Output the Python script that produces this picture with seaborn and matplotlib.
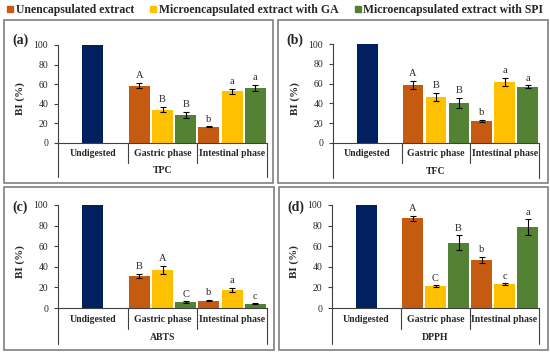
import numpy as np
import pandas as pd
import seaborn as sns
from matplotlib import pyplot as plt
from matplotlib.lines import Line2D
from matplotlib.patches import Rectangle

PHASES = ["Undigested", "Gastric phase", "Intestinal phase"]
SAMPLES = ["Unencapsulated extract", "Microencapsulated extract with GA", "Microencapsulated extract with SPI"]
PANELS = ["(a)", "(b)", "(c)", "(d)"]
ASSAYS = ["TPC", "TFC", "ABTS", "DPPH"]
UNDIGESTED = 100

# gastric (unenc, GA, SPI) then intestinal (unenc, GA, SPI)
tpc_mean = [58.5, 34.0, 28.5, 16.5, 53.0, 56.5]
tpc_sd = [2.8, 2.5, 3.0, 0.5, 2.5, 3.0]
tpc_letters = ["A", "B", "B", "b", "a", "a"]

tfc_mean = [58.8, 46.5, 40.5, 22.5, 62.0, 56.8]
tfc_sd = [4.0, 4.0, 5.0, 1.0, 4.0, 1.5]
tfc_letters = ["A", "B", "B", "b", "a", "a"]

abts_mean = [31.0, 37.0, 5.5, 7.0, 17.5, 4.0]
abts_sd = [2.0, 4.0, 1.0, 0.5, 2.0, 0.5]
abts_letters = ["B", "A", "C", "b", "a", "c"]

dpph_mean = [87.0, 21.0, 63.5, 46.5, 23.2, 78.5]
dpph_sd = [2.5, 1.0, 7.0, 3.0, 0.8, 7.5]
dpph_letters = ["A", "C", "B", "b", "c", "a"]

COLORS = {
    "Undigested": "#002060",
    SAMPLES[0]: "#C55A11",
    SAMPLES[1]: "#FFC000",
    SAMPLES[2]: "#548235",
}

W, H = 550, 354
# panel boxes in pixels: left, top, right, bottom
BOXES = [(4, 20, 273, 183), (278, 20, 548, 183), (4, 187, 274, 350), (279, 187, 548, 350)]
# axes in pixels: left, top(100), right, bottom(0)
AXES = [(58, 45, 267, 143), (333, 44, 539, 143), (58, 205, 267, 308), (332, 205, 539, 308)]


def build_frame(means, sds, letters):
    rows = [dict(phase=0, slot=1, sample="Undigested", value=UNDIGESTED, sd=0.0, letter="")]
    for i, (m, s, l) in enumerate(zip(means, sds, letters)):
        rows.append(dict(phase=1 + i // 3, slot=i % 3, sample=SAMPLES[i % 3], value=m, sd=s, letter=l))
    df = pd.DataFrame(rows)
    df["pos"] = df["phase"] * 3 + df["slot"]
    return df


def draw_panel(fig, box, axbox, df, panel, assay):
    l, t, r, b = box
    fig.patches.append(Rectangle((l / W, 1 - b / H), (r - l) / W, (b - t) / H, transform=fig.transFigure,
                                 fill=False, edgecolor="#7f7f7f", linewidth=1.2))
    fig.text((l + 8) / W, 1 - (t + 20) / H, panel, fontsize=10, fontweight="bold", va="center")

    al, at, ar, ab = axbox
    ax = fig.add_axes([al / W, 1 - ab / H, (ar - al) / W, (ab - at) / H])
    sns.barplot(data=df, x="pos", y="value", hue="sample", palette=COLORS, native_scale=True, dodge=False,
                width=0.9, errorbar=None, legend=False, saturation=1, linewidth=0, ax=ax)

    err = df[df["sd"] > 0]
    ax.errorbar(err["pos"], err["value"], yerr=err["sd"], fmt="none", ecolor="black", elinewidth=0.8,
                capsize=2, capthick=0.8)
    for _, row in err.iterrows():
        ax.annotate(row["letter"], (row["pos"], row["value"] + row["sd"]), xytext=(0, 2),
                    textcoords="offset points", ha="center", va="bottom", fontsize=7.5)

    ax.set_xlim(-0.5, 8.5)
    ax.set_ylim(0, 100)
    ax.set_yticks(np.arange(0, 101, 20))
    ax.tick_params(axis="y", labelsize=7, length=3, width=0.8, pad=4, color="#404040")
    ax.set_xticks([])
    ax.set_xlabel("")
    ax.set_ylabel("BI (%)", fontsize=8, fontweight="bold")
    ax.yaxis.set_label_coords(-0.16, 0.45)
    sns.despine(ax=ax)
    for side in ["left", "bottom"]:
        ax.spines[side].set_color("#404040")
        ax.spines[side].set_linewidth(0.8)

    # category dividers and labels below the axis
    for k, x in enumerate(np.arange(-0.5, 9, 3)):
        depth = -0.35 if k in (0, 3) else -0.2
        ax.plot([x, x], [0, depth], transform=ax.get_xaxis_transform(), color="#404040", lw=0.8, clip_on=False)
    for k, name in enumerate(PHASES):
        ax.text(k * 3 + 1, -0.11, name, transform=ax.get_xaxis_transform(), ha="center", va="center",
                fontsize=7, fontweight="bold")
    ax.text(4, -0.285, assay, transform=ax.get_xaxis_transform(), ha="center", va="center",
            fontsize=7, fontweight="bold")


def main():
    sns.set_style("ticks")
    plt.rcParams["font.family"] = ["Liberation Serif", "DejaVu Serif"]

    fig = plt.figure(figsize=(W / 100, H / 100), dpi=100)

    data = [
        (tpc_mean, tpc_sd, tpc_letters),
        (tfc_mean, tfc_sd, tfc_letters),
        (abts_mean, abts_sd, abts_letters),
        (dpph_mean, dpph_sd, dpph_letters),
    ]
    for box, axbox, (m, s, l), panel, assay in zip(BOXES, AXES, data, PANELS, ASSAYS):
        draw_panel(fig, box, axbox, build_frame(m, s, l), panel, assay)

    handles = [Line2D([], [], marker="s", linestyle="none", markersize=4, color=COLORS[s]) for s in SAMPLES]
    fig.legend(handles, SAMPLES, loc="center", bbox_to_anchor=(0.5, 1 - 10 / H), ncol=3, frameon=False,
               prop=dict(size=8.5, weight="bold"), handlelength=0.6, handletextpad=0.2, columnspacing=1.3,
               borderaxespad=0)

    fig.savefig("out.png", dpi=100)
    plt.close(fig)


if __name__ == "__main__":

    main()
